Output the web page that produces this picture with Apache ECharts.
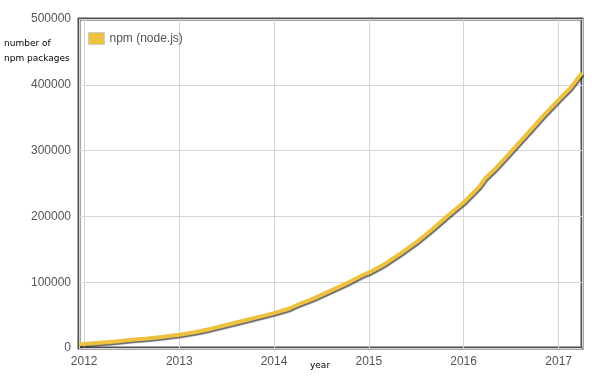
<!DOCTYPE html>
<html>
<head>
<meta charset="utf-8">
<script src="https://cdn.jsdelivr.net/npm/echarts@6/dist/echarts.min.js"></script>
<style>
  html, body { margin: 0; padding: 0; background: #fff; }
  #chart { width: 600px; height: 378px; }
</style>
</head>
<body>
<div id="chart"></div>
<script>
// npm packages over time
const dates = [
  '2011-12-12', '2012-01-01', '2012-03-01', '2012-05-01', '2012-07-01', '2012-09-01',
  '2012-11-01', '2013-01-01', '2013-03-01', '2013-05-01', '2013-07-01', '2013-09-01',
  '2013-11-01', '2014-01-01', '2014-03-01', '2014-04-15', '2014-06-01', '2014-08-01',
  '2014-10-01', '2014-12-15', '2015-01-01', '2015-03-01', '2015-05-01', '2015-07-01',
  '2015-09-01', '2015-11-01', '2016-01-01', '2016-03-01', '2016-03-25', '2016-04-01',
  '2016-05-01', '2016-07-01', '2016-09-01', '2016-11-01', '2017-01-01', '2017-02-15',
  '2017-04-01'
];
const packages = [
  5500, 6200, 8000, 10000, 12500, 14500,
  17000, 20000, 24000, 29000, 35000, 41000,
  47000, 53000, 60000, 68000, 75000, 86000,
  97000, 112000, 114500, 127000, 143000, 160000,
  180000, 201000, 221000, 245000, 258000, 257000,
  272000, 298000, 325000, 352000, 377000, 395000,
  418000
];
const yTicks = { min: 0, max: 500000, step: 100000 };
const seriesName = 'npm (node.js)';

const YEAR = 365.25 * 24 * 3600 * 1000;
const chart = echarts.init(document.getElementById('chart'));

chart.setOption({
    animation: false,
    textStyle: { fontFamily: 'Liberation Sans, Arial, sans-serif' },
    grid: {
        left: 79,
        right: 18,
        top: 19,
        bottom: 30,
        show: true,
        borderColor: '#4f4f4f',
        borderWidth: 3,
        containLabel: false
    },
    legend: {
        left: 83,
        top: 27,
        orient: 'vertical',
        icon: 'rect',
        itemWidth: 16,
        itemHeight: 12,
        itemGap: 4,
        textStyle: { color: '#545454', fontSize: 12 },
        itemStyle: { borderColor: '#cccccc', borderWidth: 1 },
        data: [seriesName]
    },
    xAxis: {
        type: 'time',
        min: '2011-12-12',
        max: '2017-04-01',
        minInterval: YEAR,
        maxInterval: YEAR,
        axisLine: { show: false },
        axisTick: { show: false },
        splitLine: { show: true, lineStyle: { color: '#d6d6d6', width: 1 } },
        axisLabel: {
            color: '#545454',
            fontSize: 12,
            margin: 8,
            formatter: function (val) {
                return String(new Date(val).getFullYear());
            }
        }
    },
    yAxis: {
        type: 'value',
        min: yTicks.min,
        max: yTicks.max,
        interval: yTicks.step,
        axisLine: { show: false },
        axisTick: { show: false },
        splitLine: { show: true, lineStyle: { color: '#d6d6d6', width: 1 } },
        axisLabel: {
            color: '#545454',
            fontSize: 12,
            margin: 8,
            formatter: function (v) { return String(v); }
        }
    },
    graphic: [
        {
            type: 'text',
            left: 4,
            top: 36,
            style: {
                text: 'number of\nnpm packages',
                fontFamily: 'DejaVu Sans',
                fontSize: 9,
                lineHeight: 15,
                fill: '#000'
            }
        },
        {
            type: 'text',
            left: 310,
            top: 361,
            style: {
                text: 'year',
                fontFamily: 'DejaVu Sans',
                fontSize: 9,
                fill: '#000'
            }
        }
    ],
    series: [
        {
            name: seriesName,
            type: 'line',
            showSymbol: false,
            color: '#edc240',
            data: dates.map((d, i) => [d, packages[i]]),
            lineStyle: {
                color: '#edc240',
                width: 4,
                shadowColor: 'rgba(0,0,0,0.6)',
                shadowBlur: 1,
                shadowOffsetX: 1,
                shadowOffsetY: 1.5
            }
        }
    ]
});
</script>
</body>
</html>
